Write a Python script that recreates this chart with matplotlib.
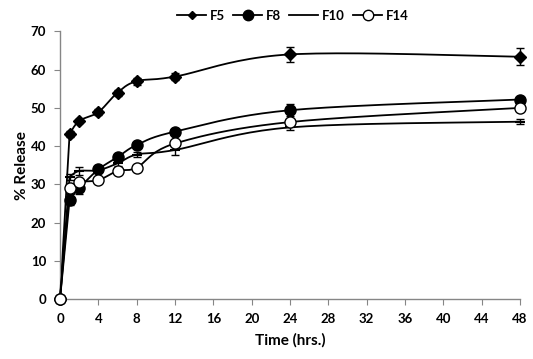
import numpy as np
import matplotlib
matplotlib.use("Agg")
import matplotlib.pyplot as plt
from matplotlib.lines import Line2D

time = [0, 1, 2, 4, 6, 8, 12, 24, 48]
f5 = [0, 43.2, 46.6, 48.9, 54.0, 57.0, 58.2, 64.0, 63.4]
f5_err = [0, 0.8, 0.6, 0.8, 0.8, 0.9, 1.0, 1.9, 2.2]
f8 = [0, 26.0, 29.0, 33.9, 37.1, 40.3, 43.8, 49.4, 52.2]
f8_err = [0, 1.5, 1.5, 0.6, 0.8, 0.6, 0.7, 1.6, 0.7]
f10 = [0, 32.0, 33.5, 33.7, 35.5, 37.8, 39.0, 44.9, 46.4]
f10_err = [0, 0.8, 1.0, 0.6, 0.8, 0.7, 1.2, 0.8, 0.7]
f14 = [0, 29.0, 30.6, 31.1, 33.5, 34.4, 40.7, 46.3, 50.0]
f14_err = [0, 0.6, 0.6, 0.6, 0.6, 0.6, 0.7, 0.7, 0.6]
x_ticks = list(range(0, 49, 4))
y_ticks = list(range(0, 71, 10))

FONT = "Lato"

def smooth(xs, ys, n=24):
    # Excel-like smoothed line (Bezier), first segment drawn straight
    xs = np.asarray(xs, float); ys = np.asarray(ys, float)
    P = np.column_stack([xs, ys])
    out = [P[0], P[1]]
    Q = P[1:]
    for i in range(len(Q) - 1):
        p0 = Q[i - 1] if i > 0 else Q[i]
        p1 = Q[i]; p2 = Q[i + 1]
        p3 = Q[i + 2] if i + 2 < len(Q) else Q[i + 1]
        c1 = p1 + (p2 - p0) / 6.0
        c2 = p2 - (p3 - p1) / 6.0
        t = np.linspace(0, 1, n)[1:, None]
        seg = ((1 - t) ** 3) * p1 + 3 * ((1 - t) ** 2) * t * c1 + 3 * (1 - t) * t ** 2 * c2 + t ** 3 * p2
        out.extend(seg)
    out = np.array(out)
    return out[:, 0], out[:, 1]

fig = plt.figure(figsize=(5.33, 3.59), dpi=100)
ax = fig.add_axes([0.1126, 0.1671, 0.8630, 0.7452])

series = [
    ("F5", f5, f5_err, dict(marker="D", ms=6, mfc="black", mec="black")),
    ("F8", f8, f8_err, dict(marker="o", ms=8, mfc="black", mec="black")),
    ("F10", f10, f10_err, dict(marker="_", ms=7, mfc="black", mec="black", mew=1.5)),
    ("F14", f14, f14_err, dict(marker="o", ms=8, mfc="white", mec="black", mew=1.0)),
]

handles = []
for z, (name, ys, err, mk) in enumerate(series):
    sx, sy = smooth(time, ys)
    ax.plot(sx, sy, color="black", lw=1.3, zorder=2 + z, clip_on=False)
    ax.errorbar(time, ys, yerr=err, fmt="none", ecolor="black", elinewidth=1.0,
                capsize=3, capthick=1.0, zorder=3 + z, clip_on=False)
    ax.plot(time, ys, ls="none", zorder=4 + z, clip_on=False, **mk)
    hmk = dict(mk)
    if name == "F5":
        hmk["ms"] = 4.5
    if name in ("F8", "F14"):
        hmk["ms"] = 7.5
    if name == "F10":
        hmk = dict(marker=None)
    handles.append(Line2D([0], [0], color="black", lw=1.3, **hmk))

ax.set_xlim(0, 48)
ax.set_ylim(0, 70)
ax.set_xticks(x_ticks)
ax.set_yticks(y_ticks)
for s in ("top", "right"):
    ax.spines[s].set_visible(False)
for s in ("left", "bottom"):
    ax.spines[s].set_color("#868686")
    ax.spines[s].set_linewidth(1.0)
ax.tick_params(axis="both", direction="out", length=4, color="#868686",
               labelsize=9.5, pad=6)
for lab in ax.get_xticklabels() + ax.get_yticklabels():
    lab.set_fontweight("bold")
    lab.set_fontfamily(FONT)

ax.set_xlabel("Time (hrs.)", fontsize=11, fontweight="bold", fontfamily=FONT, labelpad=6)
ax.set_ylabel("% Release", fontsize=11, fontweight="bold", fontfamily=FONT, labelpad=1)

leg = fig.legend(handles, ["F5", "F8", "F10", "F14"], loc="upper center",
                 bbox_to_anchor=(0.55, 1.005), ncol=4, frameon=False,
                 handlelength=2.2, handletextpad=0.3, columnspacing=0.6,
                 prop=dict(family=FONT, weight="bold", size=9.5))

fig.savefig("out.png", dpi=100)
